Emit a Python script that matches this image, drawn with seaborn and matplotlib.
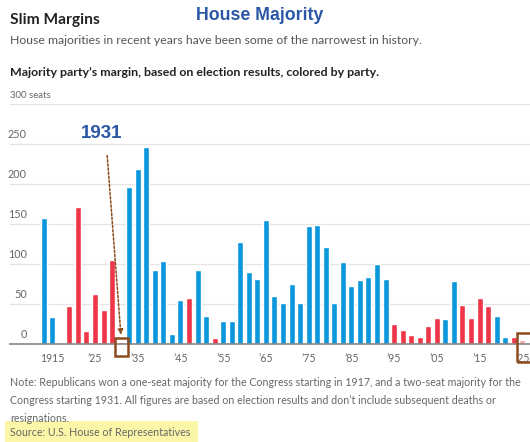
import numpy as np
import pandas as pd
import matplotlib.pyplot as plt
import matplotlib.patches as mpatches
from matplotlib import transforms
import seaborn as sns

# Congress start years and the majority party's margin (seats)
years = list(range(1913, 2027, 2))
margins = [157, 34, 1, 48, 171, 16, 63, 43, 105, 2,
           196, 219, 246, 92, 104, 12, 55, 57, 92, 35,
           8, 29, 29, 128, 90, 81, 155, 60, 51, 75,
           51, 147, 149, 121, 51, 103, 73, 80, 84, 100,
           81, 25, 18, 11, 9, 23, 32, 31, 79, 49,
           32, 58, 47, 35, 9, 9, 5]
parties = ['D', 'D', 'R', 'R', 'R', 'R', 'R', 'R', 'R', 'R',
           'D', 'D', 'D', 'D', 'D', 'D', 'D', 'R', 'D', 'D',
           'R', 'D', 'D', 'D', 'D', 'D', 'D', 'D', 'D', 'D',
           'D', 'D', 'D', 'D', 'D', 'D', 'D', 'D', 'D', 'D',
           'D', 'R', 'R', 'R', 'R', 'R', 'R', 'D', 'D', 'R',
           'R', 'R', 'R', 'D', 'D', 'R', 'R*']
tick_years = [1915, 1925, 1935, 1945, 1955, 1965, 1975, 1985, 1995, 2005, 2015, 2025]
tick_labels = ['1915', '’25', '’35', '’45', '’55', '’65', '’75', '’85', '’95', '’05', '’15', '’25']

df = pd.DataFrame({'year': [str(y) for y in years], 'margin': margins, 'party': parties})
palette = {'D': '#0a97db', 'R': '#ee3648', 'R*': '#f6a39c'}

sns.set_style("white")
plt.rcParams['font.family'] = ['Lato', 'DejaVu Sans']

W, H = 530, 442
fig = plt.figure(figsize=(W / 100, H / 100), dpi=100)

def fx(px):
    return px / W

def fy(py):
    return 1 - py / H

ax = fig.add_axes([fx(10), fy(344), fx(520), (344 - 104) / H])

sns.barplot(data=df, x='year', y='margin', hue='party', order=df['year'],
            palette=palette, dodge=False, width=0.7, legend=False, ax=ax,
            saturation=1, zorder=3)

ax.set_xlim(-3.95, 56.9)
ax.set_ylim(0, 300)
ax.set_xlabel('')
ax.set_ylabel('')

# gridlines + y labels above them
for v in [50, 100, 150, 200, 250, 300]:
    ax.axhline(v, color='#e4e4e4', lw=0.9, zorder=1)
trans = transforms.blended_transform_factory(fig.transFigure, ax.transData)
for v in [0, 50, 100, 150, 200, 250]:
    ax.text(fx(27), v + 5, str(v), transform=trans, ha='right', va='bottom',
            fontsize=7.8, color='#666666')
ax.text(fx(10), 300 + 5, '300 seats', transform=trans, ha='left', va='bottom',
        fontsize=6.9, color='#666666')
ax.set_yticks([])

# x ticks: a mark under every bar, labels every ten years
ax.set_xticks(range(len(years)))
ax.set_xticklabels([tick_labels[tick_years.index(y)] if y in tick_years else ''
                    for y in years])
ax.tick_params(axis='x', length=3, width=0.8, color='#555555', pad=3.5,
               labelsize=7.6, labelcolor='#666666')

sns.despine(ax=ax, left=True)
ax.spines['bottom'].set_color('#888888')
ax.spines['bottom'].set_linewidth(1.2)
ax.spines['bottom'].set_zorder(4)

# 1931 annotation
i31 = years.index(1931)
ax.annotate('', xy=(i31 + 0.05, 8), xytext=(i31 - 1.6, 239),
            arrowprops=dict(arrowstyle='-|>,head_length=0.3,head_width=0.15',
                            color='#8a4b1e', lw=1.1, linestyle=(0, (1.5, 1.2))),
            annotation_clip=False)
ax.add_patch(mpatches.Rectangle((i31 - 0.65, -15), 1.5, 22.5, fill=False,
                                edgecolor='#8a4b1e', lw=1.8, clip_on=False, zorder=5))
fig.text(fx(102), fy(133), '1931', ha='center', va='center', fontsize=13.5,
         fontweight='bold', color='#2b58a5', family='Liberation Sans')

i25 = years.index(2025)
ax.add_patch(mpatches.Rectangle((i25 - 0.6, -22.5), 2.5, 36, fill=False,
                                edgecolor='#8a4b1e', lw=1.8, clip_on=False, zorder=5))

# titles
fig.text(fx(260), fy(15), 'House Majority', ha='center', va='center', fontsize=12.8,
         fontweight='bold', color='#2b58a5', family='Liberation Sans')
fig.text(fx(10), fy(20), 'Slim Margins', ha='left', va='center', fontsize=11.2,
         fontweight='bold', color='#222222')
fig.text(fx(10), fy(40), 'House majorities in recent years have been some of the narrowest in history.',
         ha='left', va='center', fontsize=8.8, color='#555555')
fig.text(fx(10), fy(72), 'Majority party’s margin, based on election results, colored by party.',
         ha='left', va='center', fontsize=8.9, fontweight='bold', color='#222222')

# footnotes
note_lines = ['Note: Republicans won a one-seat majority for the Congress starting in 1917, and a two-seat majority for the',
              'Congress starting 1931. All figures are based on election results and don’t include subsequent deaths or',
              'resignations.']
for k, line in enumerate(note_lines):
    fig.text(fx(10), fy(383 + 17.5 * k), line, ha='left', va='center', fontsize=7.7,
             color='#666666')
fig.patches.append(mpatches.Rectangle((fx(5), fy(442)), fx(193), (442 - 421) / H,
                                      transform=fig.transFigure, facecolor='#fcf7a8',
                                      edgecolor='none', zorder=0))
fig.text(fx(10), fy(432), 'Source: U.S. House of Representatives', ha='left', va='center',
         fontsize=7.7, color='#666666', zorder=2)

plt.savefig('out.png', dpi=100)
